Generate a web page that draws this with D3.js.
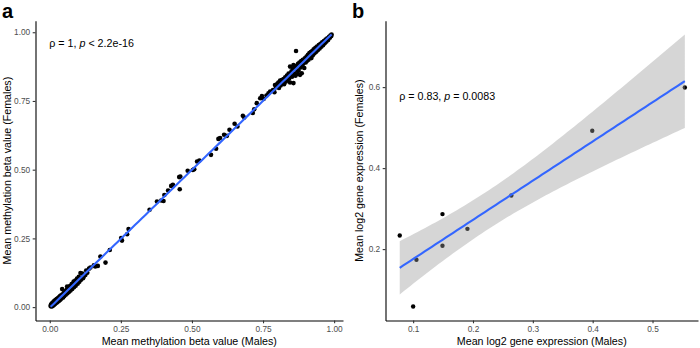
<!DOCTYPE html>
<html>
<head>
<meta charset="utf-8">
<script src="https://cdn.jsdelivr.net/npm/d3@7"></script>
<style>
  html, body { margin: 0; padding: 0; background: #fff; }
  svg { display: block; font-family: "Liberation Sans", Arial, Helvetica, sans-serif; }
</style>
</head>
<body>
<svg id="chart" width="700" height="348"></svg>
<script>
// ---------------- DATA ----------------
// Panel a: mean methylation beta values (Males vs Females)
const methMales = [
  0.003,0.004,0.005,0.006,0.007,0.008,0.009,0.010,0.011,0.012,0.013,0.014,0.015,0.016,0.017,0.018,0.019,0.020,
  0.021,0.022,0.024,0.025,0.026,0.028,0.029,0.030,0.032,0.033,0.034,0.036,0.037,0.038,0.040,0.041,0.0435,0.043,
  0.045,0.047,0.048,0.050,0.051,0.053,0.055,0.056,0.058,0.060,0.061,0.062,0.064,0.066,0.067,0.069,0.071,0.073,
  0.075,0.077,0.079,0.081,0.084,0.085,0.087,0.090,0.091,0.093,0.096,0.098,0.100,0.102,0.104,0.106,0.108,0.110,
  0.112,0.115,0.117,0.120,0.125,0.128,0.132,0.138,0.143,
  0.155,0.160,0.169,0.178,0.196,0.211,0.251,0.254,0.272,0.277,0.351,0.377,0.392,0.400,0.403,0.416,0.427,0.433,
  0.455,0.459,0.457,0.485,0.503,0.508,0.518,0.526,0.567,0.585,0.593,0.599,0.613,0.623,0.632,0.650,0.660,0.679,
  0.684,0.714,0.719,0.728,0.740,0.746,0.752,0.769,0.775,0.762,
  0.785,0.790,0.792,0.796,0.800,0.804,0.806,0.810,0.812,0.816,0.818,0.822,0.824,0.828,0.830,0.834,0.836,0.840,
  0.842,0.845,0.845,0.847,0.850,0.852,0.855,0.857,0.857,0.860,0.862,0.864,0.866,0.867,0.869,0.871,0.873,0.875,
  0.878,0.880,0.882,0.884,0.886,0.888,0.890,0.892,0.895,0.897,0.900,0.903,0.905,0.908,0.910,0.913,0.915,0.918,
  0.920,0.923,0.925,0.928,0.931,0.934,0.937,0.940,0.943,0.946,0.949,0.952,0.955,0.958,0.961,0.964,0.967,0.970,
  0.973,0.976,0.979,0.982,0.985,0.987,0.990,0.991
];
const methFemales = [
  0.004,0.008,0.002,0.011,0.005,0.014,0.003,0.009,0.017,0.006,0.012,0.020,0.009,0.015,0.023,0.011,0.018,0.026,
  0.014,0.021,0.029,0.017,0.024,0.032,0.020,0.027,0.036,0.023,0.030,0.040,0.027,0.034,0.043,0.031,0.0655,0.038,
  0.047,0.035,0.042,0.052,0.040,0.047,0.058,0.045,0.052,0.064,0.075,0.050,0.058,0.071,0.055,0.063,0.077,0.060,
  0.068,0.084,0.066,0.074,0.093,0.072,0.080,0.097,0.078,0.086,0.104,0.085,0.093,0.110,0.092,0.099,0.124,0.100,
  0.106,0.122,0.105,0.112,0.117,0.133,0.125,0.140,0.144,
  0.152,0.148,0.150,0.184,0.162,0.208,0.251,0.242,0.265,0.284,0.354,0.384,0.388,0.386,0.408,0.424,0.441,0.445,
  0.473,0.475,0.429,0.496,0.499,0.502,0.530,0.533,0.554,0.576,0.612,0.615,0.627,0.623,0.645,0.667,0.657,0.696,
  0.690,0.706,0.720,0.742,0.760,0.768,0.757,0.778,0.784,0.770,
  0.790,0.782,0.808,0.800,0.812,0.817,0.797,0.824,0.806,0.826,0.814,0.830,0.811,0.836,0.820,0.842,0.826,0.850,
  0.832,0.817,0.875,0.845,0.858,0.838,0.866,0.815,0.881,0.850,0.870,0.842,0.932,0.877,0.863,0.848,0.885,0.860,
  0.890,0.845,0.872,0.895,0.851,0.880,0.900,0.887,0.870,0.905,0.890,0.912,0.896,0.918,0.900,0.924,0.911,0.928,
  0.906,0.932,0.916,0.938,0.924,0.943,0.929,0.948,0.935,0.953,0.941,0.958,0.947,0.963,0.953,0.968,0.960,0.973,
  0.966,0.978,0.972,0.983,0.980,0.988,0.986,0.992
];
// Panel b: mean log2 gene expression (Males vs Females)
const exprMales   = [0.0776, 0.100, 0.1055, 0.149, 0.149, 0.1907, 0.2641, 0.3993, 0.554];
const exprFemales = [0.2336, 0.0583, 0.1736, 0.2864, 0.2081, 0.250, 0.3323, 0.4921, 0.599];

const methTicks = [0, 0.25, 0.5, 0.75, 1];
const exprXTicks = [0.1, 0.2, 0.3, 0.4, 0.5];
const exprYTicks = [0.2, 0.4, 0.6];

const labelA = "Mean methylation beta value (Males)";
const labelAy = "Mean methylation beta value (Females)";
const labelB = "Mean log2 gene expression (Males)";
const labelBy = "Mean log2 gene expression (Females)";
const statA = {rho: "\u03C1 = 1, ", p: "p", rest: " < 2.2e-16"};
const statB = {rho: "\u03C1 = 0.83, ", p: "p", rest: " = 0.0083"};

// ---------------- HELPERS ----------------
function linfit(xs, ys) {
  const n = xs.length;
  const mx = d3.mean(xs), my = d3.mean(ys);
  let sxx = 0, sxy = 0;
  for (let i = 0; i < n; i++) { sxx += (xs[i]-mx)**2; sxy += (xs[i]-mx)*(ys[i]-my); }
  const b = sxy / sxx, a = my - b*mx;
  let sse = 0;
  for (let i = 0; i < n; i++) sse += (ys[i] - a - b*xs[i])**2;
  const df = n - 2;
  const s = Math.sqrt(sse / df);
  const t = df === 7 ? 2.364624 : 1.96 + 2.4/df;
  return {a, b, s, mx, sxx, n, t};
}

const svg = d3.select("#chart");
const font = '"Liberation Sans", Arial, Helvetica, sans-serif';

function drawPanel(cfg) {
  const g = svg.append("g");
  const x = d3.scaleLinear().domain(cfg.xdom).range(cfg.xr);
  const y = d3.scaleLinear().domain(cfg.ydom).range(cfg.yr);

  // axes
  const xa = g.append("g").attr("transform", `translate(0,${cfg.yr[0]})`)
    .call(d3.axisBottom(x).tickValues(cfg.xticks).tickFormat(d3.format(cfg.fmtx)).tickSizeOuter(0).tickSizeInner(2.8).tickPadding(2.5));
  const ya = g.append("g").attr("transform", `translate(${cfg.xr[0]},0)`)
    .call(d3.axisLeft(y).tickValues(cfg.yticks).tickFormat(d3.format(cfg.fmty)).tickSizeOuter(0).tickSizeInner(2.8).tickPadding(2.5));
  [xa, ya].forEach(a => {
    a.select(".domain").attr("stroke", "#000").attr("stroke-width", 1.1);
    a.selectAll(".tick line").attr("stroke", "#333").attr("stroke-width", 1.1);
    a.selectAll(".tick text").attr("fill", "#4d4d4d").style("font-size", "8.3px").style("font-family", font);
  });

  // points
  const xs = cfg.xs, ys = cfg.ys;
  g.append("g").selectAll("circle").data(xs.map((d, i) => [d, ys[i]])).join("circle")
    .attr("cx", d => x(d[0])).attr("cy", d => y(d[1])).attr("r", cfg.r).attr("fill", "#000");

  // regression + CI
  const f = linfit(xs, ys);
  const x0 = d3.min(xs), x1 = d3.max(xs);
  const grid = d3.range(0, 81).map(i => x0 + (x1 - x0) * i / 80);
  const band = grid.map(v => {
    const yh = f.a + f.b * v;
    const se = f.s * Math.sqrt(1/f.n + (v - f.mx)**2 / f.sxx);
    return {v, yh, lo: yh - f.t*se, hi: yh + f.t*se};
  });
  g.append("path").datum(band)
    .attr("d", d3.area().x(d => x(d.v)).y0(d => y(d.lo)).y1(d => y(d.hi)))
    .attr("fill", "#999999").attr("fill-opacity", 0.4);
  g.append("path").datum(band)
    .attr("d", d3.line().x(d => x(d.v)).y(d => y(d.yh)))
    .attr("fill", "none").attr("stroke", "#3366FF").attr("stroke-width", 2.1);

  // annotation
  const t = g.append("text").attr("x", cfg.annX).attr("y", cfg.annY)
    .style("font-size", "10.7px").style("font-family", font).attr("fill", "#000");
  t.append("tspan").text(cfg.stat.rho);
  t.append("tspan").attr("font-style", "italic").text(cfg.stat.p);
  t.append("tspan").text(cfg.stat.rest);

  // axis titles
  g.append("text").attr("x", (cfg.xr[0] + cfg.xr[1]) / 2).attr("y", 344.5)
    .attr("text-anchor", "middle").style("font-size", "10.7px").style("font-family", font).text(cfg.xlab);
  g.append("text").attr("transform", `translate(${cfg.ylabX},${(cfg.yr[0] + cfg.yr[1]) / 2}) rotate(-90)`)
    .attr("text-anchor", "middle").style("font-size", "10.7px").style("font-family", font).text(cfg.ylab);

  // panel tag
  g.append("text").attr("x", cfg.tagX).attr("y", 17.5)
    .style("font-size", "20px").style("font-weight", "bold").style("font-family", font).text(cfg.tag);
}

drawPanel({
  xs: methMales, ys: methFemales,
  xdom: [-0.0502, 1.0312], xr: [35.5, 343],
  ydom: [-0.0487, 1.042], yr: [320.5, 20.7],
  xticks: methTicks, yticks: methTicks, fmtx: ".2f", fmty: ".2f",
  r: 2.3, stat: statA, annX: 49.3, annY: 46.8,
  xlab: labelA, ylab: labelAy, ylabX: 10.5, tag: "a", tagX: 2
});
drawPanel({
  xs: exprMales, ys: exprFemales,
  xdom: [0.0538, 0.576], xr: [385.5, 698],
  ydom: [0.0237, 0.764], yr: [320.5, 20.7],
  xticks: exprXTicks, yticks: exprYTicks, fmtx: ".1f", fmty: ".1f",
  r: 2.2, stat: statB, annX: 399.3, annY: 100,
  xlab: labelB, ylab: labelBy, ylabX: 363, tag: "b", tagX: 352
});
</script>
</body>
</html>
